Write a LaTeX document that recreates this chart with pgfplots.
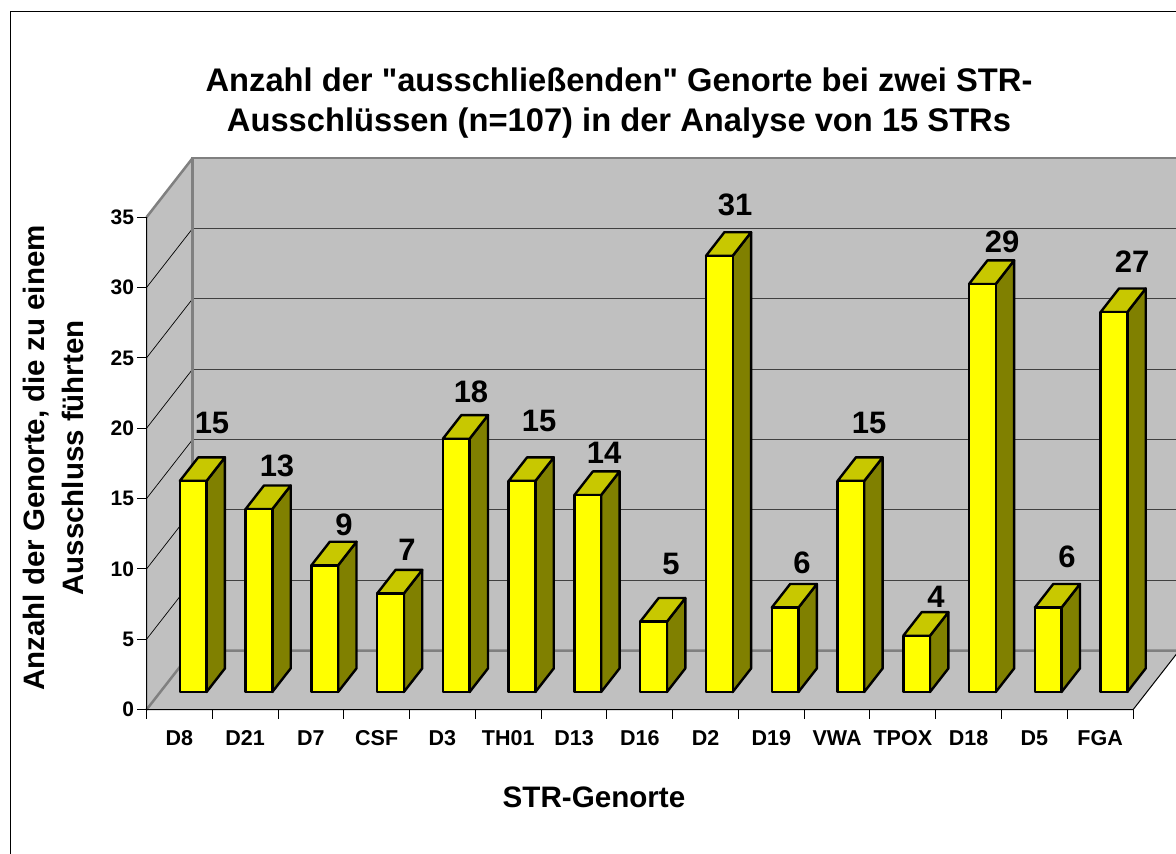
\documentclass[border=0pt]{standalone}
\usepackage{fontspec}
\setmainfont{Liberation Sans}
\newfontfamily\plainfont{Liberation Sans}
\usepackage{pgfplots}
\pgfplotsset{compat=1.18}
\definecolor{wall}{HTML}{C0C0C0}
\definecolor{edge}{HTML}{808080}
\definecolor{barfront}{HTML}{FFFF00}
\definecolor{bartop}{HTML}{C8C800}
\definecolor{barside}{HTML}{808000}
\newcommand{\fs}[1]{\fontsize{#1}{#1}\selectfont\bfseries}
% one 3D bar: slot index, value
\newcommand{\strbar}[2]{%
  \pgfmathsetmacro\xa{#1+0.5-0.203}%
  \pgfmathsetmacro\xb{#1+0.5+0.203}%
  \addplot3[draw=black,line width=2.4pt,fill=barside,line join=round] coordinates {(\xb,0.3,0) (\xb,0.7,0) (\xb,0.7,#2) (\xb,0.3,#2)} -- cycle;
  \addplot3[draw=black,line width=2.4pt,fill=bartop,line join=round] coordinates {(\xa,0.3,#2) (\xb,0.3,#2) (\xb,0.7,#2) (\xa,0.7,#2)} -- cycle;
  \addplot3[draw=black,line width=2.4pt,fill=barfront,line join=round] coordinates {(\xa,0.3,0) (\xb,0.3,0) (\xb,0.3,#2) (\xa,0.3,#2)} -- cycle;
}
\newcommand{\lab}[3]{\node[font=\fs{31}] at (#1pt,854pt-#2pt) {#3};}
\begin{document}
\begin{tikzpicture}
\useasboundingbox (0,0) rectangle (1176pt,854pt);
\clip (0,0) rectangle (1176pt,854pt);
\fill[white] (0,0) rectangle (1176pt,854pt);
\draw[black,line width=1pt] (10.5pt,0pt) -- (10.5pt,842pt) -- (1176pt,842pt);
\begin{axis}[
  at={(146.5pt,144.3pt)},anchor=origin,
  x={(65.77pt,0pt)},y={(46pt,59pt)},z={(0pt,14.07pt)},
  xmin=0,xmax=15,ymin=0,ymax=1,zmin=0,zmax=35,
  clip=false,
  axis lines=left,
  axis line style={-,draw=none},
  major tick length=0pt,
  xtick={0.5,1.5,...,14.5},
  xticklabels={D8,D21,D7,CSF,D3,TH01,D13,D16,D2,D19,VWA,TPOX,D18,D5,FGA},
  ytick=\empty,
  ztick={0,5,...,35},
  xticklabel style={font=\fs{21.5},anchor=base,yshift=-35.5pt},
  zticklabel style={font=\fs{21},anchor=east,xshift=-9pt},
  /pgf/number format/assume math mode=true,
]
% floor and walls
\addplot3[draw=none,fill=wall] coordinates {(0,0,0) (15,0,0) (15,1,0) (0,1,0)} -- cycle;
\addplot3[draw=none,fill=wall] coordinates {(0,0,0) (0,1,0) (0,1,35) (0,0,35)} -- cycle;
\addplot3[draw=none,fill=wall] coordinates {(0,1,0) (15,1,0) (15,1,35) (0,1,35)} -- cycle;
% grid
\draw[black!75,line width=1pt] (axis cs:0,1,5) -- (axis cs:15,1,5);
\draw[black!75,line width=1pt] (axis cs:0,1,10) -- (axis cs:15,1,10);
\draw[black!75,line width=1pt] (axis cs:0,1,15) -- (axis cs:15,1,15);
\draw[black!75,line width=1pt] (axis cs:0,1,20) -- (axis cs:15,1,20);
\draw[black!75,line width=1pt] (axis cs:0,1,25) -- (axis cs:15,1,25);
\draw[black!75,line width=1pt] (axis cs:0,1,30) -- (axis cs:15,1,30);
\draw[black,line width=.7pt] (axis cs:0,0,5) -- (axis cs:0,1,5);
\draw[black,line width=.7pt] (axis cs:0,0,10) -- (axis cs:0,1,10);
\draw[black,line width=.7pt] (axis cs:0,0,15) -- (axis cs:0,1,15);
\draw[black,line width=.7pt] (axis cs:0,0,20) -- (axis cs:0,1,20);
\draw[black,line width=.7pt] (axis cs:0,0,25) -- (axis cs:0,1,25);
\draw[black,line width=.7pt] (axis cs:0,0,30) -- (axis cs:0,1,30);
% gray edges
\draw[edge,line width=2.5pt] (axis cs:0,0,0) -- (axis cs:0,1,0) -- (axis cs:15,1,0);
\draw[edge,line width=2.5pt] (axis cs:0,1,0) -- (axis cs:0,1,35) -- (axis cs:15,1,35);
\draw[edge,line width=2.5pt] (axis cs:0,0,35) -- (axis cs:0,1,35);
% front edges
\draw[black,line width=1pt] (axis cs:0,0,35) -- (axis cs:0,0,0) -- (axis cs:15,0,0) -- (axis cs:15,1,0);
% ticks
\draw[black,line width=1pt] (axis cs:0,0,0) -- +(-9.5pt,0pt);
\draw[black,line width=1pt] (axis cs:0,0,5) -- +(-9.5pt,0pt);
\draw[black,line width=1pt] (axis cs:0,0,10) -- +(-9.5pt,0pt);
\draw[black,line width=1pt] (axis cs:0,0,15) -- +(-9.5pt,0pt);
\draw[black,line width=1pt] (axis cs:0,0,20) -- +(-9.5pt,0pt);
\draw[black,line width=1pt] (axis cs:0,0,25) -- +(-9.5pt,0pt);
\draw[black,line width=1pt] (axis cs:0,0,30) -- +(-9.5pt,0pt);
\draw[black,line width=1pt] (axis cs:0,0,35) -- +(-9.5pt,0pt);
\pgfplotsinvokeforeach{0,...,15}{\draw[black,line width=1pt] (axis cs:#1,0,0) -- +(0pt,-9.5pt);}
% bars
\strbar{0}{15}
\strbar{1}{13}
\strbar{2}{9}
\strbar{3}{7}
\strbar{4}{18}
\strbar{5}{15}
\strbar{6}{14}
\strbar{7}{5}
\strbar{8}{31}
\strbar{9}{6}
\strbar{10}{15}
\strbar{11}{4}
\strbar{12}{29}
\strbar{13}{6}
\strbar{14}{27}
\end{axis}
\lab{212}{423}{15}
\lab{277}{466}{13}
\lab{344}{525}{9}
\lab{407}{550}{7}
\lab{471}{392}{18}
\lab{539}{421}{15}
\lab{604}{453}{14}
\lab{671}{564}{5}
\lab{735}{205}{31}
\lab{802}{563}{6}
\lab{869}{423}{15}
\lab{936}{597}{4}
\lab{1002}{242}{29}
\lab{1067}{557}{6}
\lab{1132}{262}{27}
\node[anchor=base,inner sep=0pt] at (619pt,854pt-92pt) {\plainfont\fs{32.7}Anzahl der "ausschließenden" Genorte bei zwei STR-};
\node[anchor=base,inner sep=0pt] at (619pt,854pt-132pt) {\plainfont\fs{32.7}Ausschlüssen (n=107) in der Analyse von 15 STRs};
\node[rotate=90,anchor=base,inner sep=0pt] at (45pt,854pt-458pt) {\fs{29.5}Anzahl der Genorte, die zu einem};
\node[rotate=90,anchor=base,inner sep=0pt] at (83pt,854pt-458pt) {\fs{29.5}Ausschluss führten};
\node[font=\fs{29.6}] at (594pt,854pt-797pt) {STR-Genorte};
\end{tikzpicture}
\end{document}
